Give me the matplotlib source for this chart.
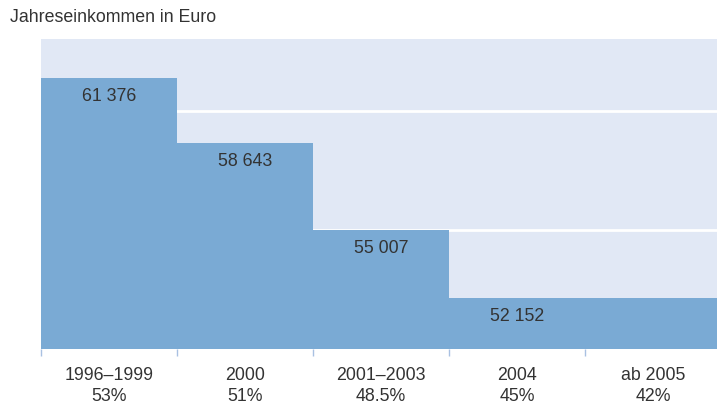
import matplotlib
matplotlib.use('Agg')
import matplotlib.pyplot as plt

# Daten
perioden = ['1996–1999', '2000', '2001–2003', '2004', 'ab 2005']
anteile = ['53%', '51%', '48.5%', '45%', '42%']
einkommen = [61376, 58643, 55007, 52152, 52152]
wert_labels = ['61 376', '58 643', '55 007', '52 152', '']

plt.rcParams['font.family'] = ['Liberation Sans', 'DejaVu Sans']

bar_col = '#7aaad4'
bg_col = '#e1e8f5'
txt_col = '#333333'
fs = 12.8

fig = plt.figure(figsize=(7.17, 4.05), dpi=100)
ax = fig.add_axes([41/717, 56/405, 680/717, 310/405])
ax.set_facecolor(bg_col)

x = list(range(len(einkommen)))
ax.bar(x, [v - 50000 for v in einkommen], bottom=50000, width=1.0, align='edge',
       color=bar_col, edgecolor='none', zorder=2)

for yv in [55000, 60000]:
    ax.axhline(yv, color='white', lw=2.0, zorder=1)

for i, (v, lab) in enumerate(zip(einkommen, wert_labels)):
    if lab:
        ax.annotate(lab, (i + 0.5, v), xytext=(0, -19), textcoords='offset pixels',
                    ha='center', va='center', fontsize=fs, color=txt_col, zorder=3)

ax.set_xlim(0, 5)
ax.set_ylim(50000, 63000)
ax.set_yticks([])
ax.set_xticks(range(5))
ax.set_xticklabels([])
ax.set_xticks([i + 0.5 for i in x], minor=True)
ax.set_xticklabels([f'{p}\n{a}' for p, a in zip(perioden, anteile)], minor=True,
                   fontsize=fs, color=txt_col, linespacing=1.3)
ax.tick_params(axis='x', which='major', length=5, color='#a9c1e2', width=1)
ax.tick_params(axis='x', which='minor', length=0, pad=13)
for s in ['top', 'right', 'bottom', 'left']:
    ax.spines[s].set_visible(False)

fig.text(10/717, 1 - 18/405, 'Jahreseinkommen in Euro', ha='left', va='center',
         fontsize=fs, color=txt_col)

fig.savefig('out.png', dpi=100)
